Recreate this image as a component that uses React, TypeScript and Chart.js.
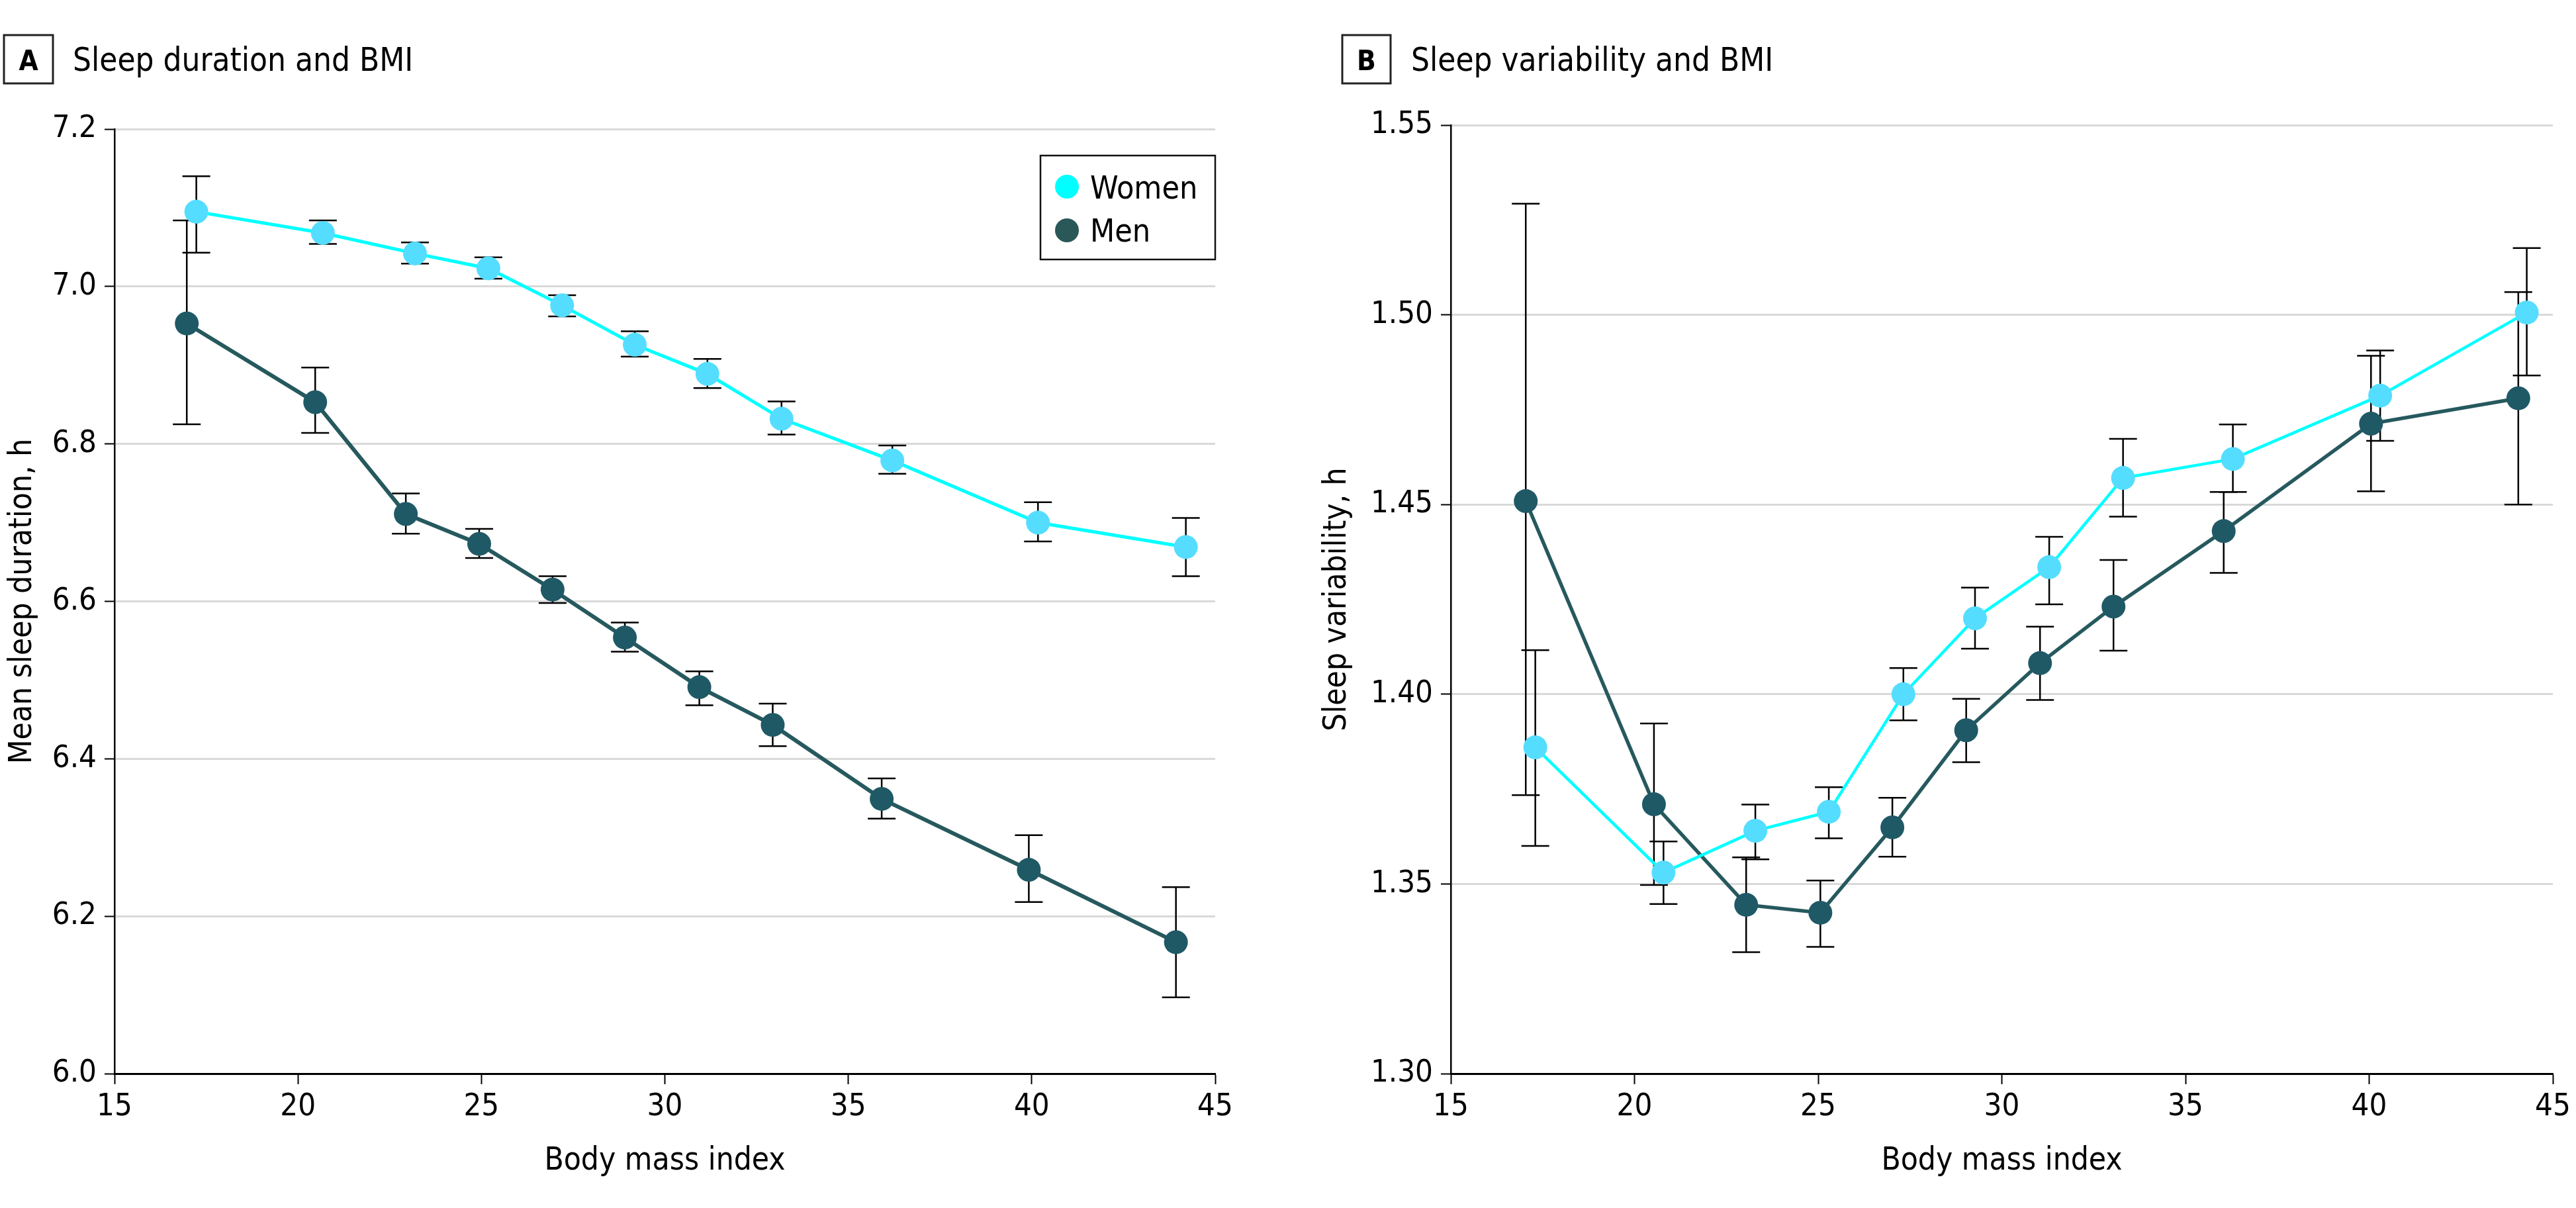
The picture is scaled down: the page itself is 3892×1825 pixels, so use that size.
import React, { useEffect, useRef } from 'react';
import { Chart, registerables } from 'chart.js';

Chart.register(...registerables);

const FONT = "'Liberation Sans Narrow', 'DejaVu Sans Condensed', Lato, sans-serif";

// ---------- Panel A: Sleep duration and BMI ----------
const bmiWomenA = [17.23, 20.68, 23.19, 25.19, 27.2, 29.18, 31.16, 33.18, 36.2, 40.17, 44.2];
const durWomen = [7.095, 7.068, 7.042, 7.023, 6.976, 6.926, 6.889, 6.832, 6.779, 6.7, 6.669];
const durWomenLo = [7.043, 7.054, 7.029, 7.01, 6.962, 6.911, 6.871, 6.812, 6.762, 6.676, 6.632];
const durWomenHi = [7.14, 7.084, 7.056, 7.037, 6.989, 6.943, 6.908, 6.854, 6.798, 6.726, 6.706];

const bmiMenA = [16.97, 20.47, 22.94, 24.94, 26.94, 28.91, 30.94, 32.94, 35.91, 39.92, 43.93];
const durMen = [6.953, 6.853, 6.711, 6.673, 6.615, 6.554, 6.491, 6.443, 6.349, 6.259, 6.167];
const durMenLo = [6.825, 6.814, 6.686, 6.655, 6.598, 6.536, 6.468, 6.416, 6.324, 6.218, 6.097];
const durMenHi = [7.084, 6.897, 6.737, 6.692, 6.632, 6.573, 6.511, 6.47, 6.375, 6.303, 6.237];

// ---------- Panel B: Sleep variability and BMI ----------
const bmiWomenB = [17.3, 20.79, 23.29, 25.29, 27.32, 29.27, 31.29, 33.3, 36.29, 40.3, 44.29];
const varWomen = [1.386, 1.353, 1.364, 1.369, 1.4, 1.42, 1.4335, 1.457, 1.462, 1.4787, 1.5006];
const varWomenLo = [1.36, 1.3447, 1.3565, 1.362, 1.3931, 1.412, 1.4237, 1.4468, 1.4533, 1.4668, 1.484];
const varWomenHi = [1.4116, 1.3612, 1.3709, 1.3755, 1.4069, 1.4281, 1.4415, 1.4673, 1.4711, 1.4906, 1.5176];

const bmiMenB = [17.04, 20.53, 23.04, 25.06, 27.02, 29.03, 31.04, 33.04, 36.04, 40.05, 44.06];
const varMen = [1.4509, 1.371, 1.3445, 1.3424, 1.3649, 1.3905, 1.4082, 1.4231, 1.443, 1.4713, 1.478];
const varMenLo = [1.3734, 1.3497, 1.332, 1.3334, 1.3572, 1.3821, 1.3985, 1.4115, 1.432, 1.4535, 1.45];
const varMenHi = [1.5293, 1.3923, 1.357, 1.3509, 1.3727, 1.3988, 1.4178, 1.4354, 1.4533, 1.4892, 1.506];

const xTicks = [15, 20, 25, 30, 35, 40, 45];
const seriesLabels = ['Women', 'Men'];

const WOMEN_LINE = '#00FFFF';
const WOMEN_POINT = '#55DDFF';
const MEN_LINE = '#26595E';
const MEN_POINT = '#1F5966';
const LEGEND_COLORS = ['#00FFFF', '#2A5757'];

const TICK_SIZE = 47;
const AXIS_TITLE_SIZE = 47.5;
const PANEL_TITLE_SIZE = 49;
const LEGEND_SIZE = 48;

function zip(xs: number[], ys: number[], lo: number[], hi: number[]) {
  return xs.map((x, i) => ({ x, y: ys[i], lo: lo[i], hi: hi[i] }));
}

const errorBarPlugin = {
  id: 'errorBars',
  beforeDatasetsDraw(chart: any) {
    const { ctx } = chart;
    const xs = chart.scales.x;
    const ys = chart.scales.y;
    ctx.save();
    ctx.strokeStyle = '#000';
    ctx.lineWidth = 2.5;
    const cap = 21;
    chart.data.datasets.forEach((ds: any) => {
      ds.data.forEach((p: any) => {
        const px = xs.getPixelForValue(p.x);
        const y1 = ys.getPixelForValue(p.lo);
        const y2 = ys.getPixelForValue(p.hi);
        ctx.beginPath();
        ctx.moveTo(px, y1);
        ctx.lineTo(px, y2);
        ctx.moveTo(px - cap, y1);
        ctx.lineTo(px + cap, y1);
        ctx.moveTo(px - cap, y2);
        ctx.lineTo(px + cap, y2);
        ctx.stroke();
      });
    });
    ctx.restore();
  },
};

const decorPlugin = {
  id: 'decor',
  afterDraw(chart: any, _args: any, opts: any) {
    const ctx = chart.ctx;
    ctx.save();
    const [bx, by, bw, bh] = opts.box;
    ctx.lineWidth = 3;
    ctx.strokeStyle = '#222';
    ctx.strokeRect(bx, by, bw, bh);
    ctx.fillStyle = '#000';
    ctx.font = `bold 42px ${FONT}`;
    ctx.textAlign = 'center';
    ctx.textBaseline = 'alphabetic';
    ctx.fillText(opts.letter, bx + bw / 2, 106);
    ctx.font = `${PANEL_TITLE_SIZE}px ${FONT}`;
    ctx.textAlign = 'left';
    ctx.fillText(opts.title, opts.titleX, 107);
    if (opts.legend) {
      const { x, y, w, h } = opts.legend;
      ctx.lineWidth = 2.5;
      ctx.strokeStyle = '#111';
      ctx.strokeRect(x, y, w, h);
      ctx.font = `${LEGEND_SIZE}px ${FONT}`;
      chart.data.datasets.forEach((ds: any, i: number) => {
        ctx.fillStyle = LEGEND_COLORS[i];
        ctx.beginPath();
        ctx.arc(x + 40, y + 47 + i * 66, 18, 0, Math.PI * 2);
        ctx.fill();
        ctx.fillStyle = '#000';
        ctx.fillText(ds.label, x + 75, y + 65 + i * 65);
      });
    }
    ctx.restore();
  },
};

interface PanelProps {
  left: number;
  width: number;
  yWidth: number;
  padTop: number;
  padRight: number;
  yMin: number;
  yMax: number;
  yStep: number;
  yDecimals: number;
  yTitle: string;
  yTitlePad: number;
  letter: string;
  title: string;
  box: number[];
  titleX: number;
  legend: any;
  women: any[];
  men: any[];
  lineW: number[];
}

function Panel(p: PanelProps) {
  const ref = useRef<HTMLCanvasElement>(null);
  useEffect(() => {
    if (!ref.current) return;
    const chart = new Chart(ref.current, {
      type: 'line',
      data: {
        datasets: [
          {
            label: seriesLabels[0],
            data: p.women,
            borderColor: WOMEN_LINE,
            backgroundColor: WOMEN_POINT,
            pointBackgroundColor: WOMEN_POINT,
            pointBorderWidth: 0,
            pointRadius: 18,
            borderWidth: p.lineW[0],
            tension: 0,
          },
          {
            label: seriesLabels[1],
            data: p.men,
            borderColor: MEN_LINE,
            backgroundColor: MEN_POINT,
            pointBackgroundColor: MEN_POINT,
            pointBorderWidth: 0,
            pointRadius: 18,
            borderWidth: p.lineW[1],
            tension: 0,
          },
        ],
      },
      options: {
        responsive: false,
        animation: false,
        devicePixelRatio: 1,
        layout: { padding: { top: p.padTop, right: p.padRight, left: 0, bottom: 0 } },
        plugins: {
          legend: { display: false },
          tooltip: { enabled: false },
          decor: { letter: p.letter, title: p.title, box: p.box, titleX: p.titleX, legend: p.legend },
        } as any,
        scales: {
          x: {
            type: 'linear',
            min: 15,
            max: 45,
            afterBuildTicks: (s: any) => {
              s.ticks = xTicks.map((v) => ({ value: v }));
            },
            ticks: {
              font: { family: FONT, size: TICK_SIZE },
              color: '#000',
              padding: 7,
              maxRotation: 0,
              callback: (v: any) => String(v),
            },
            grid: {
              drawOnChartArea: false,
              drawTicks: true,
              tickLength: 16,
              tickColor: '#000',
              tickWidth: 2,
            },
            border: { display: true, color: '#000', width: 3 },
            title: {
              display: true,
              text: 'Body mass index',
              color: '#000',
              font: { family: FONT, size: AXIS_TITLE_SIZE },
              padding: { top: 0, bottom: 42 },
            },
            afterFit: (s: any) => {
              s.height = 203;
            },
          },
          y: {
            type: 'linear',
            min: p.yMin,
            max: p.yMax,
            ticks: {
              stepSize: p.yStep,
              font: { family: FONT, size: TICK_SIZE },
              color: '#000',
              padding: 12,
              callback: (v: any) => Number(v).toFixed(p.yDecimals),
            },
            grid: {
              color: '#d9d9d9',
              lineWidth: 3,
              drawTicks: true,
              tickLength: 15,
              tickColor: '#000',
              tickWidth: 2,
            },
            border: { display: true, color: '#000', width: 2.5 },
            title: {
              display: true,
              text: p.yTitle,
              color: '#000',
              font: { family: FONT, size: AXIS_TITLE_SIZE },
              padding: { top: p.yTitlePad, bottom: 0 },
            },
            afterFit: (s: any) => {
              s.width = p.yWidth;
            },
          },
        },
      },
      plugins: [errorBarPlugin, decorPlugin],
    });
    return () => chart.destroy();
  }, []);
  return (
    <canvas
      ref={ref}
      width={p.width}
      height={1825}
      style={{ position: 'absolute', left: p.left, top: 0, width: p.width, height: 1825 }}
    />
  );
}

export default function App() {
  return (
    <div
      style={{
        position: 'absolute',
        left: 0,
        top: 0,
        width: 3892,
        height: 1825,
        overflow: 'hidden',
        background: '#fff',
      }}
    >
      <Panel
        left={0}
        width={1900}
        yWidth={173}
        padTop={195}
        padRight={64}
        yMin={6.0}
        yMax={7.2}
        yStep={0.2}
        yDecimals={1}
        yTitle="Mean sleep duration, h"
        yTitlePad={6}
        letter="A"
        title="Sleep duration and BMI"
        box={[6, 53, 74, 73]}
        titleX={110}
        legend={{ x: 1572, y: 235, w: 264, h: 157 }}
        women={zip(bmiWomenA, durWomen, durWomenLo, durWomenHi)}
        men={zip(bmiMenA, durMen, durMenLo, durMenHi)}
        lineW={[5, 6]}
      />
      <Panel
        left={1950}
        width={1942}
        yWidth={242}
        padTop={189}
        padRight={35}
        yMin={1.3}
        yMax={1.55}
        yStep={0.05}
        yDecimals={2}
        yTitle="Sleep variability, h"
        yTitlePad={42}
        letter="B"
        title="Sleep variability and BMI"
        box={[78, 53, 73, 73]}
        titleX={182}
        legend={null}
        women={zip(bmiWomenB, varWomen, varWomenLo, varWomenHi)}
        men={zip(bmiMenB, varMen, varMenLo, varMenHi)}
        lineW={[4.5, 5.5]}
      />
    </div>
  );
}
